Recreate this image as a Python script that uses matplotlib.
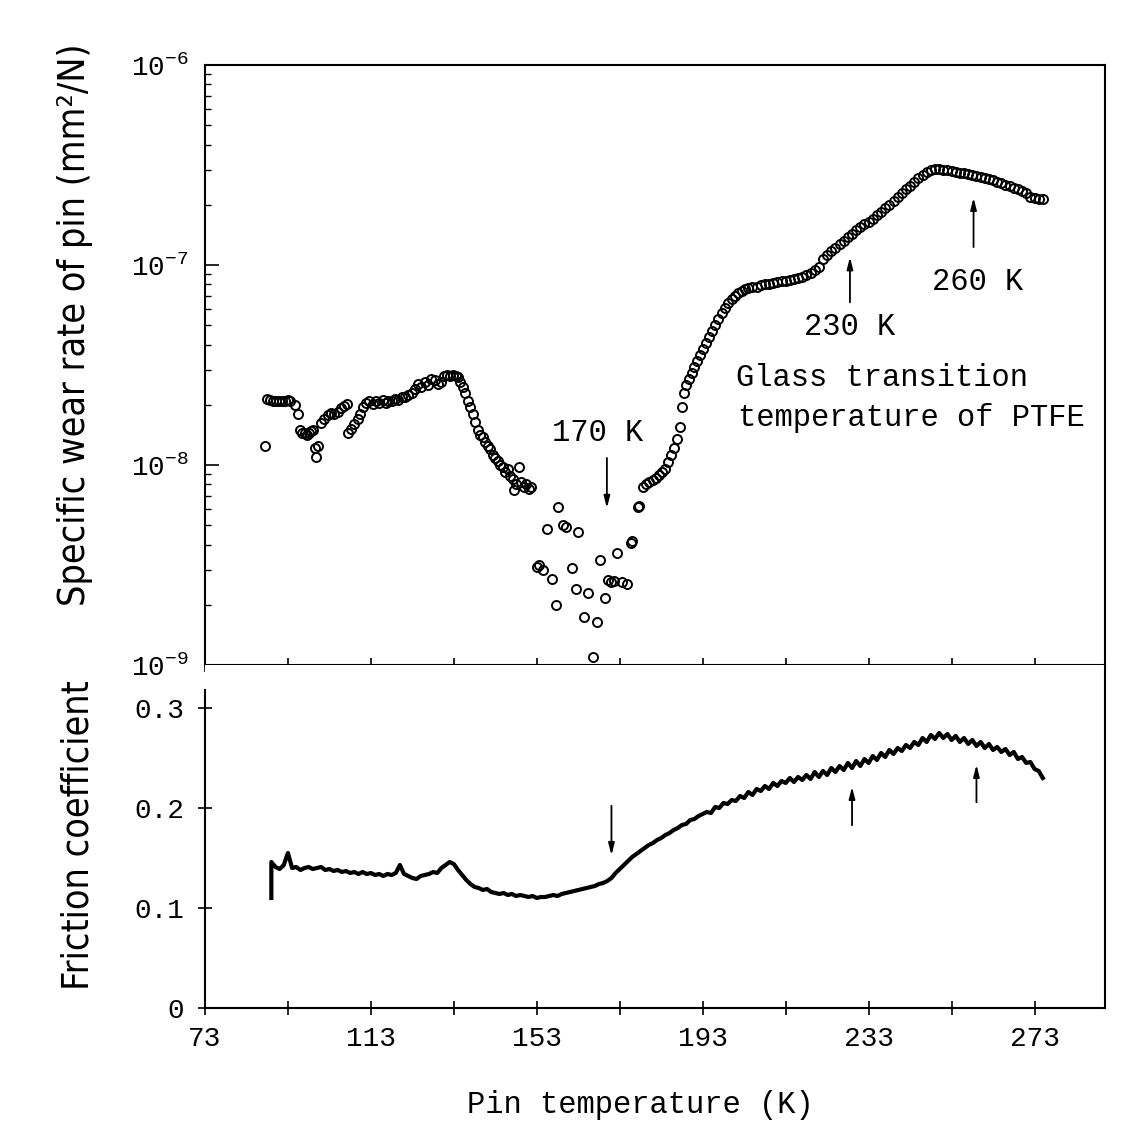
import matplotlib
matplotlib.use("Agg")
import matplotlib.pyplot as plt
from matplotlib.ticker import FixedLocator, LogLocator, NullFormatter
from matplotlib import font_manager

plt.rcParams['font.family'] = ['Liberation Mono', 'DejaVu Sans Mono']
plt.rcParams['mathtext.fontset'] = 'custom'
plt.rcParams['mathtext.rm'] = 'Liberation Mono'

# DATA ------------------------------
# specific wear rate of pin, in units of 1e-8 mm^2/N
wear_temp = [87.5,
             88.0, 88.7, 89.4, 90.1, 90.8, 91.5, 92.2, 92.9, 93.6,
             94.7, 95.4,
             96.0, 96.5, 97.0, 97.5, 98.0, 98.5, 99.0,
             99.5, 99.8, 100.3,
             101.0, 101.8, 102.6, 103.4, 104.2, 105.0, 105.8, 106.6, 107.2,
             107.5, 108.2, 109.0, 109.8, 110.4,
             111.0, 111.8, 112.6, 113.4, 114.2, 115.0, 115.8, 116.6, 117.2,
             118.0, 118.8, 119.6, 120.4, 121.2, 122.0, 122.8, 123.6,
             124.4, 125.2, 126.0, 126.8, 127.6, 128.4, 129.2, 130.0,
             130.6, 131.3, 132.0, 132.7, 133.4, 134.0,
             134.6, 135.2, 135.8, 136.4, 137.0, 137.6, 138.2, 138.8, 139.4, 140.0,
             140.6, 141.2, 141.8, 142.4, 143.0, 143.6, 144.2, 144.8, 145.4, 146.0,
             146.6, 147.2, 147.5, 148.0, 148.6, 149.2, 149.8, 150.4, 151.0, 151.6,
             153.0, 153.6, 154.5, 156.6, 157.6, 155.4, 158.0, 159.4, 160.0, 163.0,
             161.4, 162.4, 165.3, 164.3, 167.5, 166.5, 168.2, 169.4, 172.3, 170.2,
             170.8, 171.5, 173.5, 174.7, 175.6, 176.0, 177.3, 177.6,
             178.5, 179.3, 180.1, 180.9, 181.7, 182.5, 183.3, 184.0, 184.7, 185.4,
             186.1, 186.8, 187.5, 187.9, 188.4,
             188.9, 189.6, 190.3, 191.0, 191.7, 192.4, 193.1, 193.8, 194.5, 195.2,
             196.0, 196.8, 197.6, 198.4, 199.2, 200.0, 200.8, 201.6, 202.4, 203.2, 204.0,
             205, 206, 207, 208, 209, 210, 211, 212, 213, 214, 215, 216,
             217, 218, 219, 220, 221,
             222, 223, 224, 225, 226, 227, 228, 229, 230, 231, 232,
             233, 234, 235, 236, 237, 238, 239, 240, 241, 242, 243, 244, 245, 246, 247,
             248, 249, 250, 251,
             252, 253, 254, 255, 256, 257, 258, 259, 260, 261,
             262, 263, 264, 265, 266, 267, 268, 269, 270, 271,
             272, 273, 274, 275]
wear_rate = [1.25,
             2.15, 2.12, 2.10, 2.10, 2.08, 2.10, 2.10, 2.12, 2.10,
             2.00, 1.80,
             1.50, 1.45, 1.45, 1.42, 1.45, 1.48, 1.50,
             1.22, 1.10, 1.25,
             1.62, 1.70, 1.78, 1.82, 1.80, 1.85, 1.92, 1.98, 2.02,
             1.45, 1.52, 1.60, 1.70, 1.80,
             1.95, 2.05, 2.10, 2.02, 2.10, 2.05, 2.12, 2.05, 2.08,
             2.10, 2.15, 2.12, 2.18, 2.20, 2.25, 2.30, 2.40,
             2.55, 2.45, 2.60, 2.50, 2.70, 2.65, 2.55, 2.60,
             2.80, 2.82, 2.80, 2.82, 2.78, 2.75,
             2.60, 2.45, 2.30, 2.10, 1.95, 1.80, 1.65, 1.50, 1.42, 1.38,
             1.30, 1.25, 1.20, 1.12, 1.08, 1.05, 1.00, 0.98, 0.92, 0.95,
             0.88, 0.85, 0.75, 0.80, 0.98, 0.82, 0.78, 0.80, 0.76, 0.78,
             0.31, 0.315, 0.30, 0.27, 0.20, 0.48, 0.62, 0.50, 0.49, 0.46,
             0.305, 0.24, 0.23, 0.174, 0.164, 0.11, 0.335, 0.216, 0.363, 0.265,
             0.26, 0.262, 0.26, 0.255, 0.407, 0.415, 0.62, 0.625,
             0.78, 0.80, 0.82, 0.84, 0.86, 0.89, 0.92, 0.96, 1.04, 1.12,
             1.22, 1.35, 1.55, 1.95, 2.30,
             2.51, 2.69, 2.88, 3.09, 3.31, 3.55, 3.80, 4.07, 4.37, 4.68,
             5.0, 5.4, 5.75, 6.1, 6.45, 6.75, 7.0, 7.25, 7.4, 7.6, 7.7,
             7.75, 7.8, 7.9, 8.0, 8.0, 8.1, 8.2, 8.3, 8.35, 8.45, 8.5, 8.6,
             8.75, 8.9, 9.1, 9.4, 9.8,
             10.7, 11.2, 11.7, 12.2, 12.7, 13.2, 13.8, 14.3, 15.0, 15.5, 16.0,
             16.4, 17.0, 17.8, 18.4, 19.3, 20.0, 20.9, 21.9, 22.9, 24.0, 24.8, 26.0, 27.2, 28.2, 29.2,
             29.9, 30.2, 30.2, 30.0,
             29.8, 29.5, 29.3, 29.0, 28.8, 28.5, 28.2, 27.8, 27.5, 27.2,
             26.8, 26.5, 26.0, 25.6, 25.2, 24.8, 24.4, 24.0, 23.5, 22.8,
             22.0, 21.6, 21.5, 21.5]

# friction coefficient trace
fric_temp = [89, 89] + list(range(90, 276))
fric = [0.110, 0.146,
        0.141, 0.139, 0.143, 0.155, 0.140, 0.141, 0.138, 0.140, 0.141, 0.139,   # 90-99
        0.140, 0.141, 0.138, 0.139, 0.137, 0.138, 0.136, 0.137, 0.135, 0.136,   # 100-109
        0.134, 0.136, 0.134, 0.135, 0.133, 0.134, 0.132, 0.134, 0.133, 0.135,   # 110-119
        0.143, 0.134, 0.132, 0.130, 0.129, 0.132, 0.133, 0.134, 0.136, 0.135,   # 120-129
        0.140, 0.143, 0.146, 0.144, 0.138, 0.133, 0.128, 0.124, 0.121, 0.120,   # 130-139
        0.118, 0.119, 0.116, 0.115, 0.114, 0.115, 0.113, 0.114, 0.112, 0.113,   # 140-149
        0.112, 0.111, 0.112, 0.110, 0.111, 0.111, 0.112, 0.113, 0.112, 0.114,   # 150-159
        0.115, 0.116, 0.117, 0.118, 0.119, 0.120, 0.121, 0.122, 0.124, 0.125,   # 160-169
        0.127, 0.130, 0.135, 0.139, 0.143, 0.147, 0.151, 0.154, 0.157, 0.160,   # 170-179
        0.163, 0.165, 0.168, 0.170, 0.173, 0.175, 0.178, 0.180, 0.183, 0.184,   # 180-189
        0.188, 0.189, 0.192, 0.194, 0.196, 0.195, 0.201, 0.200, 0.205, 0.204,   # 190-199
        0.208, 0.207, 0.212, 0.210, 0.216, 0.213, 0.219, 0.217, 0.222, 0.219,   # 200-209
        0.225, 0.222, 0.227, 0.225, 0.230, 0.226, 0.231, 0.228, 0.233, 0.229,   # 210-219
        0.236, 0.231, 0.237, 0.233, 0.240, 0.236, 0.242, 0.238, 0.245, 0.240,   # 220-229
        0.247, 0.242, 0.249, 0.245, 0.252, 0.248, 0.255, 0.251, 0.258, 0.254,   # 230-239
        0.260, 0.257, 0.263, 0.260, 0.266, 0.263, 0.270, 0.266, 0.273, 0.269,   # 240-249
        0.275, 0.270, 0.274, 0.268, 0.272, 0.266, 0.270, 0.264, 0.268, 0.262,   # 250-259
        0.266, 0.260, 0.264, 0.258, 0.261, 0.256, 0.259, 0.253, 0.256, 0.249,   # 260-269
        0.251, 0.245, 0.246, 0.239, 0.237, 0.230]                               # 270-275

x_ticks = [73, 93, 113, 133, 153, 173, 193, 213, 233, 253, 273]
x_labels = ['73', '', '113', '', '153', '', '193', '', '233', '', '273']
fric_ticks = [0, 0.1, 0.2, 0.3]
fric_labels = ['0', '0.1', '0.2', '0.3']

# RYSUNEK ------------------------------
fig = plt.figure(figsize=(11.35, 11.25), dpi=100)
ax1 = fig.add_axes([0.1806, 0.4089, 0.793, 0.5333])
ax2 = fig.add_axes([0.1806, 0.104, 0.793, 0.3049])

ax1.plot(wear_temp, [v * 1e-8 for v in wear_rate], 'o', mfc='none', mec='k',
         ms=6.5, mew=1.4)
ax1.set_yscale('log')
ax1.set_ylim(1e-9, 1e-6)
ax1.set_xlim(73, 290)
ax1.yaxis.set_major_locator(FixedLocator([1e-9, 1e-8, 1e-7, 1e-6]))
ax1.yaxis.set_minor_locator(LogLocator(base=10, subs=range(2, 10)))
ax1.yaxis.set_minor_formatter(NullFormatter())
ax1.set_yticklabels([r'$\mathregular{10^{-9}}$', r'$\mathregular{10^{-8}}$',
                     r'$\mathregular{10^{-7}}$', r'$\mathregular{10^{-6}}$'])
ax1.set_xticks(x_ticks)
ax1.set_xticklabels([])
ax1.tick_params(axis='y', which='major', direction='in', length=10, width=1.2,
                labelsize=20, pad=12)
ax1.tick_params(axis='y', which='minor', direction='in', length=4, width=1)
ax1.tick_params(axis='x', direction='inout', length=10, width=1.2)

arrow = dict(arrowstyle='-|>,head_length=0.7,head_width=0.18', color='k', lw=1.3)
ax1.text(167.7, 1.45e-8, '170 K', fontsize=22, ha='center', va='center')
ax1.annotate('', xy=(169.9, 5.9e-9), xytext=(169.9, 1.12e-8), arrowprops=arrow)
ax1.text(228.4, 4.9e-8, '230 K', fontsize=22, ha='center', va='center')
ax1.annotate('', xy=(228.5, 1.13e-7), xytext=(228.5, 6.3e-8), arrowprops=arrow)
ax1.text(259.3, 8.2e-8, '260 K', fontsize=22, ha='center', va='center')
ax1.annotate('', xy=(258.3, 2.24e-7), xytext=(258.3, 1.19e-7), arrowprops=arrow)
ax1.text(201.0, 2.72e-8, 'Glass transition', fontsize=22, ha='left', va='center')
ax1.text(201.6, 1.72e-8, 'temperature of PTFE', fontsize=22, ha='left', va='center')

ax2.plot(fric_temp, fric, color='k', lw=3)
ax2.set_xlim(73, 290)
ax2.set_ylim(0, 0.343)
ax2.spines['top'].set_visible(False)
ax2.spines['left'].set_bounds(0, 0.318)
ax2.set_xticks(x_ticks)
ax2.set_xticklabels(x_labels)
ax2.set_yticks(fric_ticks)
ax2.set_yticklabels(fric_labels)
ax2.tick_params(axis='x', direction='inout', length=10, width=1.2, labelsize=20, pad=8)
ax2.tick_params(axis='y', direction='inout', length=10, width=1.2, labelsize=20, pad=10)

ax2.annotate('', xy=(171, 0.150), xytext=(171, 0.205), arrowprops=arrow)
ax2.annotate('', xy=(229, 0.224), xytext=(229, 0.180), arrowprops=arrow)
ax2.annotate('', xy=(259, 0.246), xytext=(259, 0.203), arrowprops=arrow)

for ax in (ax1, ax2):
    for sp in ax.spines.values():
        sp.set_linewidth(1.5)

# waski krój pisma dla opisow osi Y
names = {f.name for f in font_manager.fontManager.ttflist}
if 'Liberation Sans Narrow' in names:
    ylab_font = dict(family=['Liberation Sans Narrow', 'DejaVu Sans'], fontsize=27)
else:
    ylab_font = dict(family=['DejaVu Sans'], fontstretch='condensed', fontsize=27)

fig.text(0.066, 0.711, 'Specific wear rate of pin (mm\u00b2/N)', rotation=90,
         ha='center', va='center', **ylab_font)
fig.text(0.069, 0.258, 'Friction coefficient', rotation=90,
         ha='center', va='center', **ylab_font)
fig.text(0.564, 0.018, 'Pin temperature (K)', ha='center', va='center', fontsize=22)

plt.savefig('out.png', dpi=100)
